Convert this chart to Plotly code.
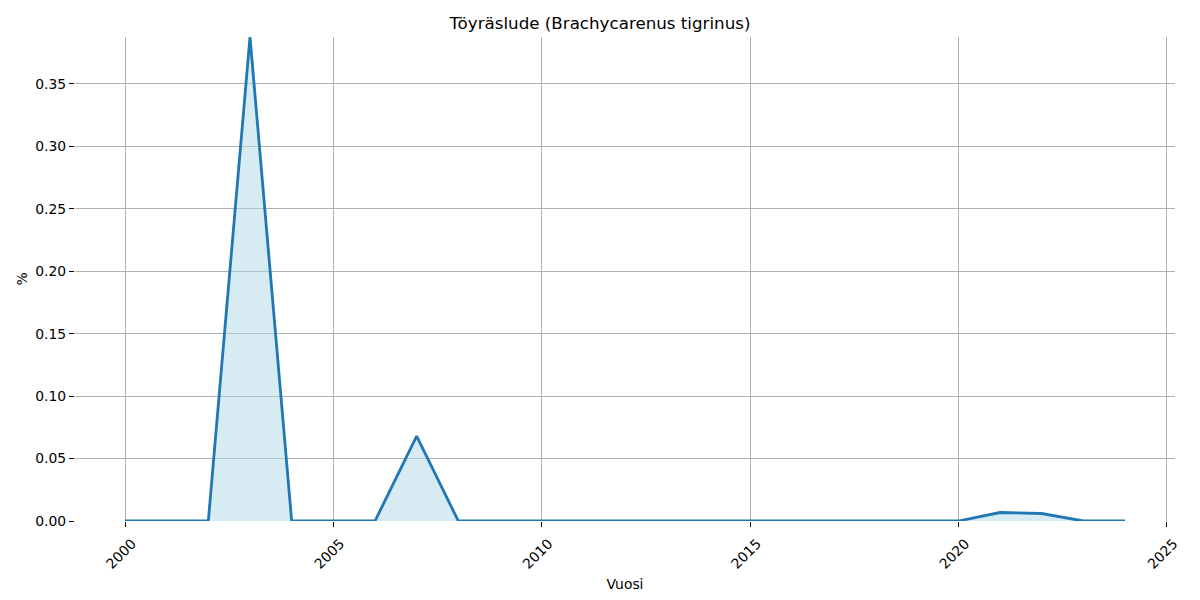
import plotly.graph_objects as go

years = list(range(2000, 2025))
values = [0, 0, 0, 0.3876, 0, 0, 0, 0.068, 0, 0, 0, 0, 0, 0, 0, 0, 0, 0, 0, 0, 0, 0.0068, 0.006, 0, 0]

title = "Töyräslude (Brachycarenus tigrinus)"
x_ticks = [2000, 2005, 2010, 2015, 2020, 2025]
y_ticks = [0, 0.05, 0.10, 0.15, 0.20, 0.25, 0.30, 0.35]

fig = go.Figure()
fig.add_trace(go.Scatter(x=years, y=values, mode="lines", fill="tozeroy",
                         fillcolor="rgba(173,216,230,0.5)", line=dict(width=0, color="rgba(0,0,0,0)"),
                         hoverinfo="skip", showlegend=False))
fig.add_trace(go.Scatter(x=years, y=values, mode="lines",
                         line=dict(color="#1f77b4", width=2.8), showlegend=False))

font = "DejaVu Sans, sans-serif"
fig.update_layout(
    width=1200, height=600,
    plot_bgcolor="white", paper_bgcolor="white",
    margin=dict(l=75, r=25, t=37, b=79),
    font=dict(family=font, size=14, color="black"),
    title=dict(text=title, x=0.5, xanchor="center", y=1 - 23 / 600, yanchor="middle",
               font=dict(size=16.7, family=font, color="black")),
    xaxis=dict(range=[1998.8, 2025.2], tickvals=x_ticks, tickangle=-45, automargin=False,
               showgrid=True, gridcolor="#b0b0b0", gridwidth=1, zeroline=False,
               showline=False, ticks="outside", ticklen=5, tickcolor="black",
               tickfont=dict(size=13.9), ticklabelshift=7, ticklabelstandoff=3,
               title=dict(text="Vuosi", font=dict(size=13.9), standoff=8)),
    yaxis=dict(range=[0, 0.3876], tickvals=y_ticks, tickformat=".2f", automargin=False,
               showgrid=True, gridcolor="#b0b0b0", gridwidth=1, zeroline=False,
               showline=False, ticks="outside", ticklen=5, tickcolor="black",
               tickfont=dict(size=13.9),
               title=dict(text="%", font=dict(size=13.9), standoff=4)),
)
fig.write_html("out.html", post_script="document.body.style.margin='0px';",
               config={"displayModeBar": False})
